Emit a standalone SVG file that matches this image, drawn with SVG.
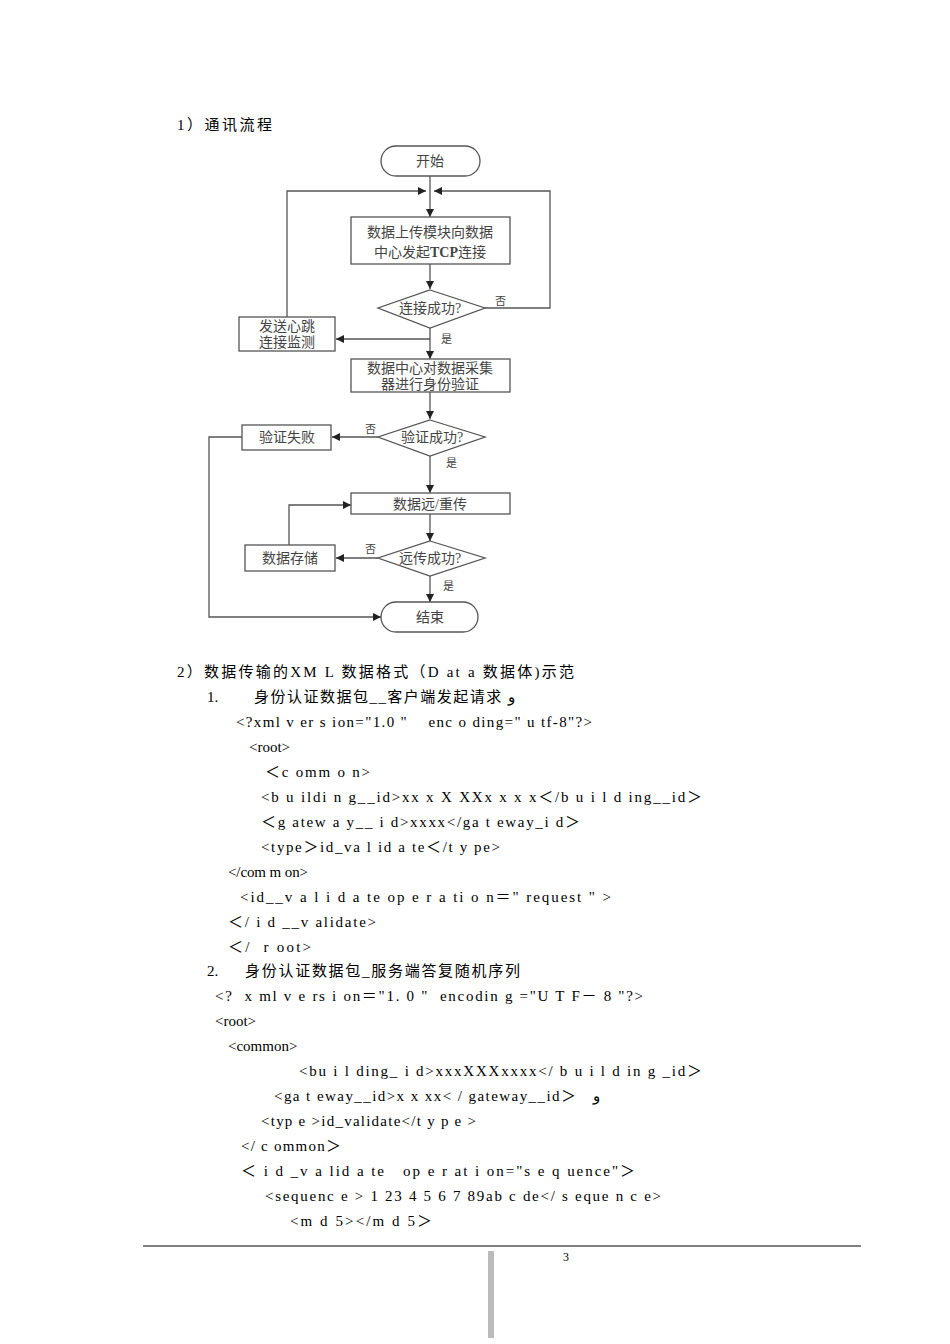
<svg xmlns="http://www.w3.org/2000/svg" width="950" height="1344" viewBox="0 0 950 1344">
<style>
text{font-family:"Liberation Serif","Noto Sans CJK SC",serif;white-space:pre}
.b{font-size:15px;fill:#000}
.n{font-size:14px;fill:#444;text-anchor:middle}
.s{font-size:11px;fill:#444}
.sh{fill:#fff;stroke:#555;stroke-width:1.3}
.c{fill:none;stroke:#555;stroke-width:1.3}
</style>
<defs><marker id="a" viewBox="0 0 10 10" refX="10" refY="5" markerWidth="8" markerHeight="8" orient="auto" markerUnits="userSpaceOnUse"><path d="M0,0L10,5L0,10z" fill="#222"/></marker></defs>
<rect width="950" height="1344" fill="#fff"/>
<text class="b" x="177" y="130" textLength="95" lengthAdjust="spacing">1）通讯流程</text>
<g id="connectors">
<path class="c" d="M430,176V217" marker-end="url(#a)"/>
<path class="c" d="M287,317V191H426" marker-end="url(#a)"/>
<path class="c" d="M485,308H550V191H434" marker-end="url(#a)"/>
<path class="c" d="M430,264V289" marker-end="url(#a)"/>
<path class="c" d="M430,328V359" marker-end="url(#a)"/>
<path class="c" d="M430,339H336" marker-end="url(#a)"/>
<path class="c" d="M430,392V419" marker-end="url(#a)"/>
<path class="c" d="M378,437H332" marker-end="url(#a)"/>
<path class="c" d="M242,437H209V617H381" marker-end="url(#a)"/>
<path class="c" d="M430,456V493" marker-end="url(#a)"/>
<path class="c" d="M289,545V505H351" marker-end="url(#a)"/>
<path class="c" d="M430,514V541" marker-end="url(#a)"/>
<path class="c" d="M378,558H336" marker-end="url(#a)"/>
<path class="c" d="M430,576V602" marker-end="url(#a)"/>
<text class="s" x="495" y="305">否</text>
<text class="s" x="441" y="343">是</text>
<text class="s" x="365" y="433">否</text>
<text class="s" x="446" y="467">是</text>
<text class="s" x="365" y="553">否</text>
<text class="s" x="443" y="590">是</text>
</g>
<g id="start"><rect class="sh" x="381" y="146" width="99" height="30" rx="15"/><text class="n" x="430" y="166">开始</text></g>
<g id="tcp"><rect class="sh" x="351" y="217" width="159" height="47"/><text class="n" x="430" y="237">数据上传模块向数据</text><text class="n" x="430" y="257">中心发起<tspan font-weight="bold">TCP</tspan>连接</text></g>
<g id="conn"><path class="sh" d="M430,290L485,308L430,328L378,308Z"/><text class="n" x="430" y="313">连接成功?</text></g>
<g id="heartbeat"><rect class="sh" x="239" y="317" width="96" height="34"/><text class="n" x="287" y="331">发送心跳</text><text class="n" x="287" y="347">连接监测</text></g>
<g id="auth"><rect class="sh" x="351" y="359" width="159" height="33"/><text class="n" x="430" y="373">数据中心对数据采集</text><text class="n" x="430" y="389">器进行身份验证</text></g>
<g id="authok"><path class="sh" d="M430,420L485,437L430,456L378,437Z"/><text class="n" x="432" y="442">验证成功?</text></g>
<g id="fail"><rect class="sh" x="242" y="425" width="89" height="25"/><text class="n" x="287" y="442">验证失败</text></g>
<g id="send"><rect class="sh" x="351" y="493" width="159" height="21"/><text class="n" x="430" y="509">数据远/重传</text></g>
<g id="sendok"><path class="sh" d="M430,541L485,558L430,576L378,558Z"/><text class="n" x="430" y="563">远传成功?</text></g>
<g id="store"><rect class="sh" x="245" y="545" width="90" height="26"/><text class="n" x="290" y="563">数据存储</text></g>
<g id="end"><rect class="sh" x="381" y="602" width="97" height="30" rx="15"/><text class="n" x="430" y="622">结束</text></g>
<g class="b">
<text class="b" x="177" y="677" textLength="397" lengthAdjust="spacing">2）数据传输的XM L 数据格式（D at a 数据体)示范</text>
<text class="b" x="207" y="702">1.</text><text class="b" x="254" y="702" textLength="261" lengthAdjust="spacing">身份认证数据包__客户端发起请求 و</text>
<text class="b" x="236" y="727" textLength="356" lengthAdjust="spacing">&lt;?xml v er s ion="1.0 "    enc o ding=" u tf-8"?&gt;</text>
<text class="b" x="249" y="752">&lt;root&gt;</text>
<text class="b" x="265" y="777" textLength="105" lengthAdjust="spacing">＜c omm o n&gt;</text>
<text class="b" x="261" y="802" textLength="441" lengthAdjust="spacing">&lt;b u ildi n g__id&gt;xx x X XXx x x x＜/b u i l d ing__id＞</text>
<text class="b" x="261" y="827" textLength="319" lengthAdjust="spacing">＜g atew a y__ i d&gt;xxxx&lt;/ga t eway_i d＞</text>
<text class="b" x="261" y="852" textLength="239" lengthAdjust="spacing">&lt;type＞id_va l id a te＜/t y pe&gt;</text>
<text class="b" x="228" y="877" textLength="80" lengthAdjust="spacing">&lt;/com m on&gt;</text>
<text class="b" x="240" y="902" textLength="371" lengthAdjust="spacing">&lt;id__v a l i d a te op e r a ti o n＝" request " &gt;</text>
<text class="b" x="228" y="927" textLength="148" lengthAdjust="spacing">＜/ i d __v alidate&gt;</text>
<text class="b" x="228" y="952" textLength="83" lengthAdjust="spacing">＜/  r oot&gt;</text>
<text class="b" x="207" y="976">2.</text><text class="b" x="245" y="976" textLength="275" lengthAdjust="spacing">身份认证数据包_服务端答复随机序列</text>
<text class="b" x="215" y="1001" textLength="428" lengthAdjust="spacing">&lt;?  x ml v e rs i on＝"1. 0 "  encodin g ="U T F－ 8 "?&gt;</text>
<text class="b" x="215" y="1026">&lt;root&gt;</text>
<text class="b" x="228" y="1051">&lt;common&gt;</text>
<text class="b" x="299" y="1076" textLength="403" lengthAdjust="spacing">&lt;bu i l ding_ i d&gt;xxxXXXxxxx&lt;/ b u i l d in g _id＞</text>
<text class="b" x="274" y="1101" textLength="326" lengthAdjust="spacing">&lt;ga t eway__id&gt;x x xx&lt; / gateway__id＞   و</text>
<text class="b" x="261" y="1126" textLength="215" lengthAdjust="spacing">&lt;typ e &gt;id_validate&lt;/t y p e &gt;</text>
<text class="b" x="241" y="1151" textLength="100" lengthAdjust="spacing">&lt;/ c ommon＞</text>
<text class="b" x="241" y="1176" textLength="394" lengthAdjust="spacing">＜ i d _v a lid a te   op e r at i on="s e q uence"＞</text>
<text class="b" x="265" y="1201" textLength="396" lengthAdjust="spacing">&lt;sequenc e &gt; 1 23 4 5 6 7 89ab c de&lt;/ s eque n c e&gt;</text>
<text class="b" x="290" y="1226" textLength="142" lengthAdjust="spacing">&lt;m d 5&gt;&lt;/m d 5＞</text>
</g>
<line x1="143" y1="1246" x2="861" y2="1246" stroke="#000" stroke-width="1"/>
<text x="566" y="1261" font-size="12" text-anchor="middle" style="font-family:'Liberation Serif',serif">3</text>
<rect x="488" y="1251" width="6" height="87" fill="#bbb"/>
</svg>
